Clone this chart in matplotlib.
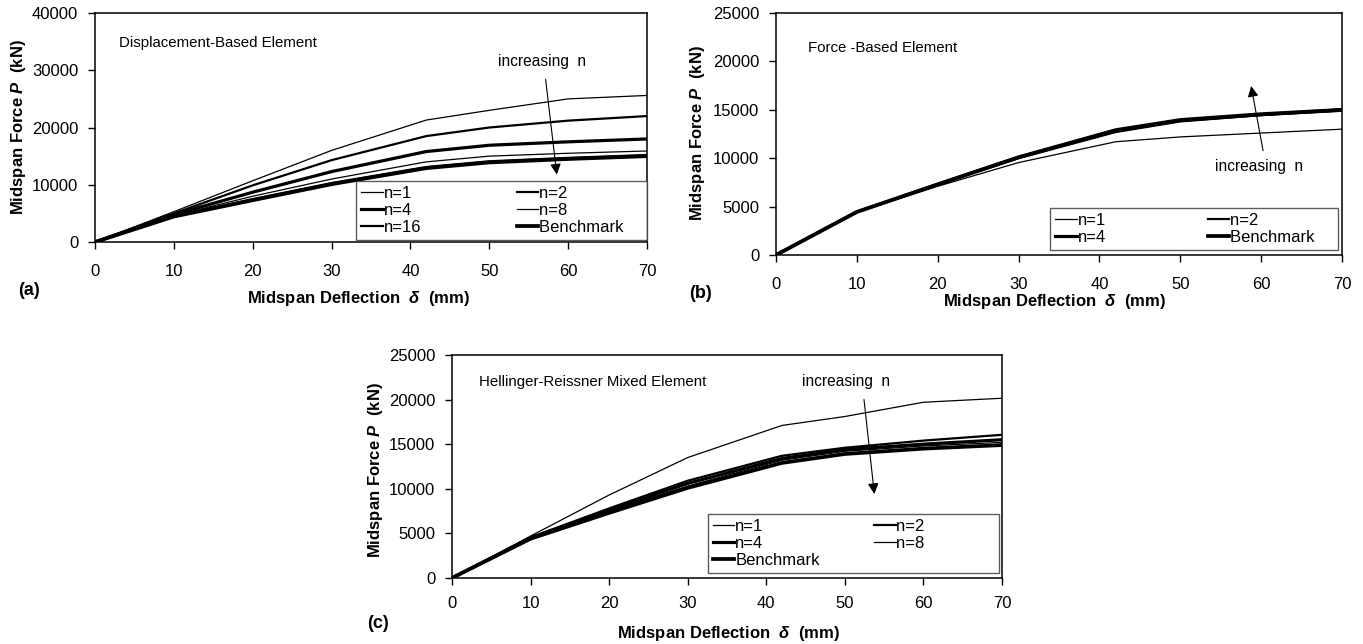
import matplotlib
matplotlib.use('Agg')
import matplotlib.pyplot as plt

plt.rcParams['font.family'] = ['Liberation Sans', 'DejaVu Sans']
plt.rcParams['mathtext.fontset'] = 'custom'
plt.rcParams['mathtext.it'] = 'Liberation Sans:bold:italic'
plt.rcParams['mathtext.rm'] = 'Liberation Sans:bold'

# deflection (mm) sample points
x_pts = [0, 10, 20, 30, 42, 50, 60, 70]

# (a) displacement-based element
a_n1 = [0, 5300, 10700, 16000, 21300, 23000, 25000, 25600]
a_n2 = [0, 5000, 9900, 14300, 18500, 20000, 21200, 22000]
a_n4 = [0, 4800, 8700, 12300, 15800, 16900, 17500, 18000]
a_n8 = [0, 4600, 8000, 11000, 14000, 15000, 15500, 15900]
a_n16 = [0, 4500, 7500, 10300, 13100, 14100, 14700, 15200]
a_bench = [0, 4450, 7300, 10100, 12900, 13900, 14500, 15000]

# (b) force-based element
b_n1 = [0, 4400, 7100, 9550, 11700, 12200, 12600, 13000]
b_n2 = [0, 4450, 7250, 10000, 12700, 13800, 14450, 14900]
b_n4 = [0, 4450, 7300, 10100, 12850, 13900, 14500, 15000]
b_bench = [0, 4450, 7300, 10100, 12900, 13950, 14550, 15000]

# (c) Hellinger-Reissner mixed element
c_n1 = [0, 4700, 9300, 13500, 17100, 18100, 19700, 20150]
c_n2 = [0, 4550, 7800, 10900, 13700, 14600, 15400, 16050]
c_n4 = [0, 4500, 7600, 10600, 13400, 14400, 15000, 15500]
c_n8 = [0, 4450, 7450, 10300, 13200, 14200, 14800, 15200]
c_bench = [0, 4400, 7300, 10100, 12900, 13900, 14500, 14900]

fig = plt.figure(figsize=(13.63, 6.44), dpi=100)
ax1 = fig.add_axes([0.0697, 0.6242, 0.405, 0.3556])
ax2 = fig.add_axes([0.5693, 0.6040, 0.4153, 0.3758])
ax3 = fig.add_axes([0.3316, 0.1025, 0.4035, 0.3463])

thin, mid, thick, heavy = 0.9, 1.6, 2.3, 2.7


def style_axes(ax, ymax, ystep, xpad):
    ax.set_xlim(0, 70)
    ax.set_ylim(0, ymax)
    ax.set_xticks(range(0, 71, 10))
    ax.set_yticks(range(0, ymax + 1, ystep))
    ax.tick_params(axis='x', direction='out', length=5, width=1, pad=xpad, labelsize=12)
    ax.tick_params(axis='y', direction='out', length=5, width=1, pad=7, labelsize=12)
    for s in ax.spines.values():
        s.set_linewidth(1.1)


def legend(ax, box, tail):
    h, l = ax.get_legend_handles_labels()
    # row-wise order for a 2-column legend; trailing blanks keep column 2 wide
    h = h[0::2] + h[1::2]
    l = l[0::2] + [s + ' ' * tail for s in l[1::2]]
    leg = ax.legend(h, l, ncol=2, loc='lower left', bbox_to_anchor=box, mode='expand',
                    borderaxespad=0, frameon=True, fancybox=False, fontsize=12,
                    handlelength=1.3, handletextpad=0.05, labelspacing=0.12,
                    borderpad=0.3, columnspacing=1.0)
    leg.get_frame().set_edgecolor('#333333')
    leg.get_frame().set_linewidth(1.0)


xlabel = r'Midspan Deflection  $\delta$  (mm)'
ylabel = r'Midspan Force $P$  (kN)'
arrow = dict(arrowstyle='-|>', color='k', lw=0.8, mutation_scale=16)

# panel (a)
ax1.plot(x_pts, a_n1, color='k', lw=thin, label='n=1')
ax1.plot(x_pts, a_n2, color='k', lw=mid, label='n=2')
ax1.plot(x_pts, a_n4, color='k', lw=thick, label='n=4')
ax1.plot(x_pts, a_n8, color='k', lw=thin, label='n=8')
ax1.plot(x_pts, a_n16, color='k', lw=mid, label='n=16')
ax1.plot(x_pts, a_bench, color='k', lw=heavy, label='Benchmark')
style_axes(ax1, 40000, 10000, 11)
legend(ax1, (0.473, 0.009, 0.527, 0.25), 4)
ax1.text(3.0, 34800, 'Displacement-Based Element', fontsize=10.8, va='center')
ax1.text(56.7, 31600, 'increasing  n', fontsize=11.2, ha='center', va='center')
ax1.annotate('', xy=(58.6, 11300), xytext=(57.1, 28900), arrowprops=arrow)
ax1.set_xlabel(xlabel, fontsize=12, fontweight='bold', va='center')
ax1.xaxis.set_label_coords(0.477, -0.245)
ax1.set_ylabel(ylabel, fontsize=12, fontweight='bold', va='center')
ax1.yaxis.set_label_coords(-0.139, 0.5)
ax1.text(-0.139, -0.21, '(a)', transform=ax1.transAxes, fontsize=13,
         fontweight='bold', ha='left', va='center')

# panel (b)
ax2.plot(x_pts, b_n1, color='k', lw=thin, label='n=1')
ax2.plot(x_pts, b_n2, color='k', lw=mid, label='n=2')
ax2.plot(x_pts, b_n4, color='k', lw=thick, label='n=4')
ax2.plot(x_pts, b_bench, color='k', lw=heavy, label='Benchmark')
style_axes(ax2, 25000, 5000, 11)
legend(ax2, (0.484, 0.02, 0.509, 0.19), 4)
ax2.text(4.0, 21350, 'Force -Based Element', fontsize=10.8, va='center')
ax2.text(59.7, 9120, 'increasing  n', fontsize=11.2, ha='center', va='center')
ax2.annotate('', xy=(58.7, 17740), xytext=(60.3, 10500), arrowprops=arrow)
ax2.set_xlabel(xlabel, fontsize=12, fontweight='bold', va='center')
ax2.xaxis.set_label_coords(0.492, -0.193)
ax2.set_ylabel(ylabel, fontsize=12, fontweight='bold', va='center')
ax2.yaxis.set_label_coords(-0.139, 0.504)
ax2.text(-0.153, -0.157, '(b)', transform=ax2.transAxes, fontsize=13,
         fontweight='bold', ha='left', va='center')

# panel (c)
ax3.plot(x_pts, c_n1, color='k', lw=thin, label='n=1')
ax3.plot(x_pts, c_n2, color='k', lw=mid, label='n=2')
ax3.plot(x_pts, c_n4, color='k', lw=thick, label='n=4')
ax3.plot(x_pts, c_n8, color='k', lw=thin, label='n=8')
ax3.plot(x_pts, c_bench, color='k', lw=heavy, label='Benchmark')
style_axes(ax3, 25000, 5000, 8)
legend(ax3, (0.465, 0.022, 0.53, 0.29), 15)
ax3.text(3.4, 22000, 'Hellinger-Reissner Mixed Element', fontsize=10.8, va='center')
ax3.text(50.2, 22000, 'increasing  n', fontsize=11.2, ha='center', va='center')
ax3.annotate('', xy=(53.8, 9100), xytext=(52.4, 20330), arrowprops=arrow)
ax3.set_xlabel(xlabel, fontsize=12, fontweight='bold', va='center')
ax3.xaxis.set_label_coords(0.5026, -0.247)
ax3.set_ylabel(ylabel, fontsize=12, fontweight='bold', va='center')
ax3.yaxis.set_label_coords(-0.139, 0.484)
ax3.text(-0.155, -0.202, '(c)', transform=ax3.transAxes, fontsize=13,
         fontweight='bold', ha='left', va='center')

fig.savefig('out.png', dpi=100)
